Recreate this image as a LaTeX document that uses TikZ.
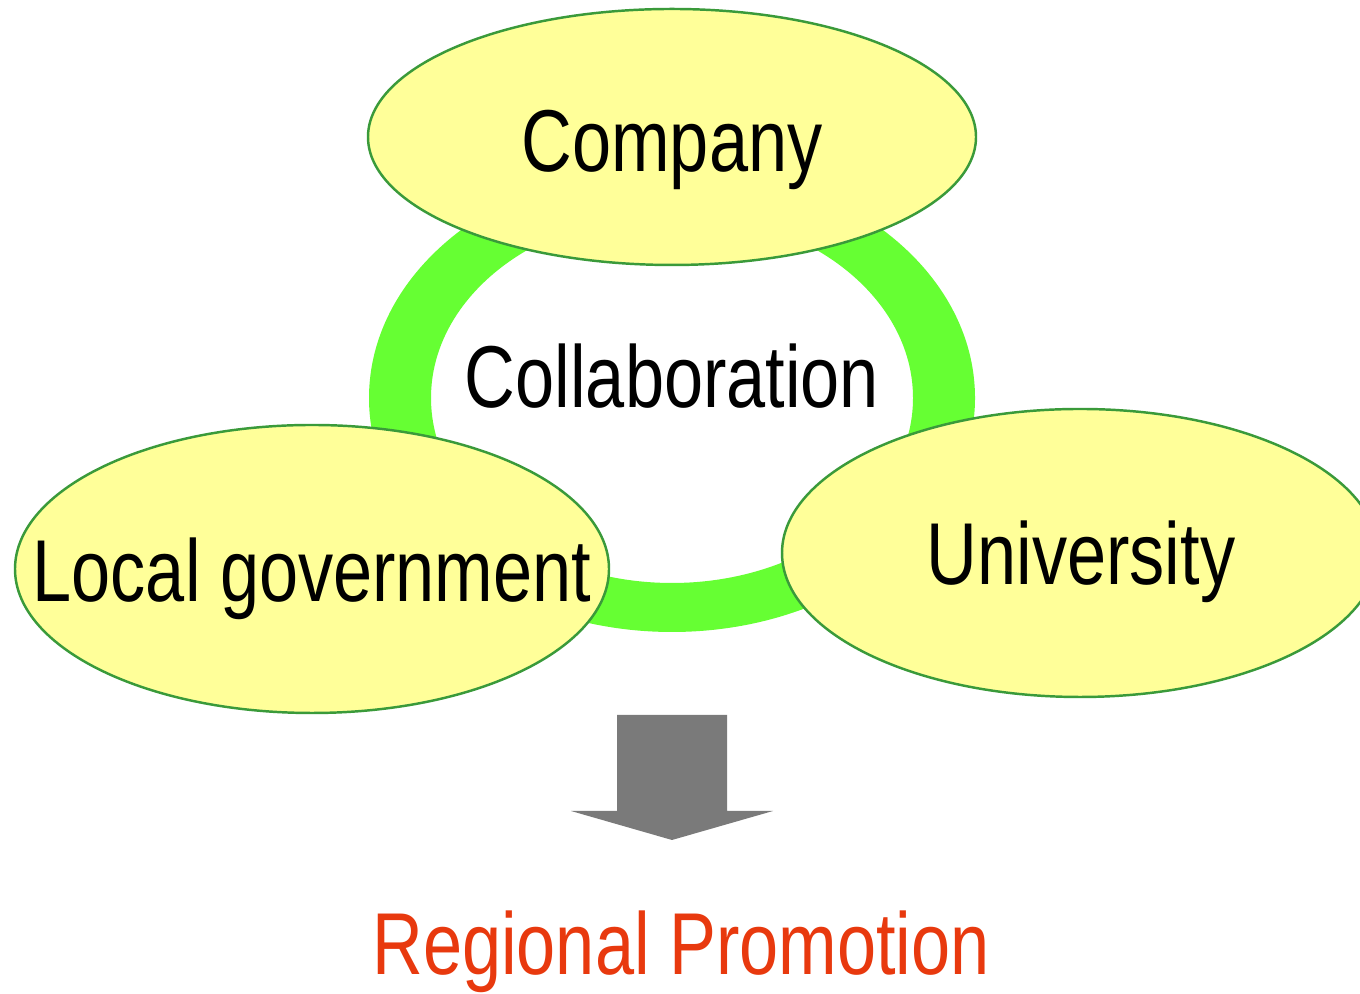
\documentclass[tikz,border=0pt]{standalone}
\usepackage{fontspec}
\setmainfont{Liberation Sans}[FakeStretch=0.8]
\usetikzlibrary{shapes.geometric}
\definecolor{ringgreen}{HTML}{66FF33}
\definecolor{ellfill}{HTML}{FFFF99}
\definecolor{ellline}{HTML}{3A9A3A}
\definecolor{arrowgray}{HTML}{7A7A7A}
\definecolor{promored}{HTML}{E8390E}
\tikzset{
  partyell/.style={ellipse, draw=ellline, line width=0.7pt, fill=ellfill, inner sep=0pt},
  bigtext/.style={font=\fontsize{25pt}{30pt}\selectfont, inner sep=0pt, anchor=base},
}
\begin{document}
\begin{tikzpicture}[x=1cm,y=1cm]
\clip (0,0) rectangle (13.6,9.94);
\fill[white] (0,0) rectangle (13.6,9.94);
% ring
\fill[ringgreen, even odd rule] (6.72,5.96) ellipse [x radius=3.03, y radius=2.34]
  (6.72,5.96) ellipse [x radius=2.41, y radius=1.85];
% ellipses
\node[partyell, minimum width=6.08cm, minimum height=2.56cm] (company) at (6.72,8.57) {};
\node[partyell, minimum width=5.94cm, minimum height=2.88cm] (localgov) at (3.12,4.25) {};
\node[partyell, minimum width=5.96cm, minimum height=2.88cm] (univ) at (10.80,4.41) {};
% texts
\node[bigtext] (tcompany) at (6.72,8.22) {Company};
\node[bigtext] (tcollab) at (6.72,5.86) {Collaboration};
\node[bigtext] (tlocal) at (3.12,3.92) {Local government};
\node[bigtext] (tuniv) at (10.81,4.09) {University};
% arrow
\fill[arrowgray] (6.17,2.79) -- (7.27,2.79) -- (7.27,1.83) -- (7.73,1.83) -- (6.72,1.54)
  -- (5.71,1.83) -- (6.17,1.83) -- cycle;
\node[bigtext, text=promored] (promo) at (6.81,0.19) {Regional Promotion};
\end{tikzpicture}
\end{document}
